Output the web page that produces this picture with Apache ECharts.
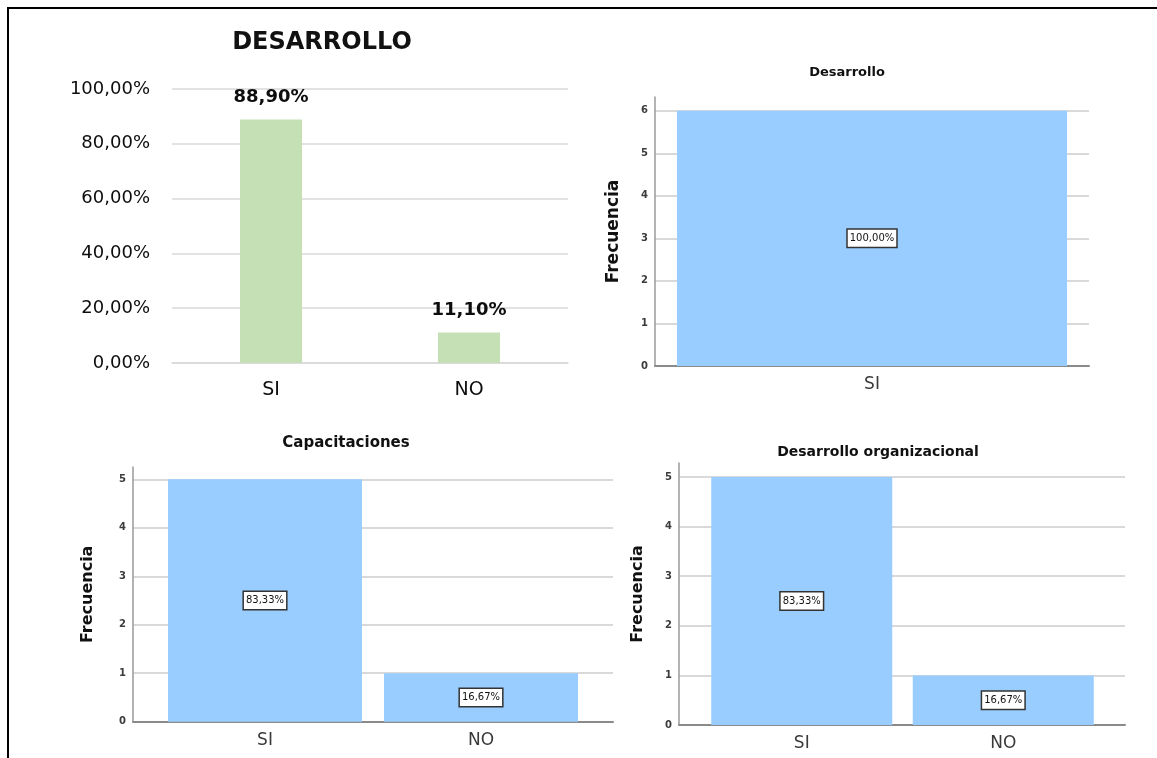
<!DOCTYPE html>
<html>
<head>
<meta charset="utf-8">
<script src="https://cdn.jsdelivr.net/npm/echarts@6/dist/echarts.min.js"></script>
<style>
  html, body { margin: 0; padding: 0; background: #fff; }
  #main { width: 1157px; height: 758px; }
</style>
</head>
<body>
<div id="main"></div>
<script>
// ---- data ----
const resumenCategorias = ['SI', 'NO'];
const resumenPorcentajes = [88.9, 11.1];
const resumenTicks = [0, 20, 40, 60, 80, 100];

const desarrolloCategorias = ['SI'];
const desarrolloFrecuencias = [6];

const capacitacionesCategorias = ['SI', 'NO'];
const capacitacionesFrecuencias = [5, 1];

const organizacionalCategorias = ['SI', 'NO'];
const organizacionalFrecuencias = [5, 1];

// ---- helpers ----
const FONT = 'DejaVu Sans';
const BLUE = '#99ccff';
const GREEN = '#c5e0b4';

function pctText(v) {
  return v.toFixed(2).replace('.', ',') + '%';
}

const grids = [];
const xAxes = [];
const yAxes = [];
const series = [];

// Spreadsheet-style summary chart
grids.push({ left: 172, top: 89, right: 589, bottom: 395 });
xAxes.push({
  gridIndex: 0, type: 'category', data: resumenCategorias,
  axisLine: { show: true, lineStyle: { color: '#d9d9d9', width: 1.5 } },
  axisTick: { show: false },
  axisLabel: { color: '#0d0d0d', fontFamily: FONT, fontSize: 19, margin: 18 }
});
yAxes.push({
  gridIndex: 0, type: 'value', min: resumenTicks[0], max: resumenTicks[resumenTicks.length - 1],
  interval: resumenTicks[1] - resumenTicks[0],
  axisLine: { show: false }, axisTick: { show: false },
  axisLabel: { color: '#0d0d0d', fontFamily: FONT, fontSize: 18, margin: 22, formatter: pctText },
  splitLine: { lineStyle: { color: '#d9d9d9', width: 1.5 } }
});
series.push({
  type: 'bar', xAxisIndex: 0, yAxisIndex: 0, data: resumenPorcentajes,
  barWidth: 62, itemStyle: { color: GREEN },
  label: {
    show: true, position: 'top', distance: 13,
    fontFamily: FONT, fontWeight: 'bold', fontSize: 18, color: '#0d0d0d',
    formatter: p => pctText(p.value)
  }
});

// Frequency chart: a frame grid (axis lines + axis name), a scale grid
// (tick labels + gridlines) and a bar grid (categories + bars).
function freqChart(cfg) {
  const base = grids.length;
  const total = cfg.values.reduce((a, b) => a + b, 0);
  // frame
  grids.push({ left: cfg.left, right: cfg.right, top: cfg.frameTop, bottom: cfg.bottom });
  xAxes.push({
    gridIndex: base, type: 'category', data: [''],
    axisLine: { show: true, lineStyle: { color: '#8a8a8a', width: 2 } },
    axisTick: { show: false }, axisLabel: { show: false }, splitLine: { show: false }
  });
  yAxes.push({
    gridIndex: base, type: 'value', min: 0, max: 1,
    axisLine: { show: true, lineStyle: { color: '#9a9a9a', width: 1.5 } },
    axisTick: { show: false }, axisLabel: { show: false }, splitLine: { show: false },
    name: 'Frecuencia', nameLocation: 'middle', nameRotate: 90, nameGap: cfg.nameGap,
    nameTextStyle: { fontFamily: FONT, fontWeight: 'bold', fontSize: cfg.nameSize, color: '#111' }
  });
  // scale
  grids.push({ left: cfg.left, right: cfg.right, top: cfg.top, bottom: cfg.bottom });
  xAxes.push({ gridIndex: base + 1, type: 'category', data: [''], show: false });
  yAxes.push({
    gridIndex: base + 1, type: 'value', min: 0, max: cfg.max, interval: 1,
    axisLine: { show: false }, axisTick: { show: false },
    axisLabel: { fontFamily: FONT, fontSize: 10, fontWeight: 'bold', color: '#3c3c3c', margin: 7 },
    splitLine: { lineStyle: { color: '#cccccc', width: 1.6 } }
  });
  // bars
  grids.push({ left: cfg.barLeft, right: cfg.barRight, top: cfg.top, bottom: cfg.bottom });
  xAxes.push({
    gridIndex: base + 2, type: 'category', data: cfg.categories,
    axisLine: { show: false }, axisTick: { show: false },
    axisLabel: { fontFamily: FONT, fontSize: 17, color: '#3a3a3a', margin: 10 }
  });
  yAxes.push({ gridIndex: base + 2, type: 'value', min: 0, max: cfg.max, show: false });
  series.push({
    type: 'bar', xAxisIndex: base + 2, yAxisIndex: base + 2, data: cfg.values,
    barWidth: cfg.barWidth, itemStyle: { color: BLUE },
    label: {
      show: true, position: 'inside',
      fontFamily: FONT, fontSize: 10, color: '#111',
      backgroundColor: '#fff', borderColor: '#333', borderWidth: 1.5,
      padding: [4, 2, 3, 2],
      formatter: p => pctText(p.value / total * 100)
    }
  });
}

freqChart({
  categories: desarrolloCategorias, values: desarrolloFrecuencias, max: 6,
  left: 655, right: 68, frameTop: 97, top: 110.7, bottom: 392,
  barLeft: 655, barRight: 68, barWidth: 390, nameGap: 33, nameSize: 17
});
freqChart({
  categories: capacitacionesCategorias, values: capacitacionesFrecuencias, max: 5,
  left: 133, right: 544, frameTop: 467, top: 479.3, bottom: 36.3,
  barLeft: 157, barRight: 568, barWidth: 194, nameGap: 37, nameSize: 16
});
freqChart({
  categories: organizacionalCategorias, values: organizacionalFrecuencias, max: 5,
  left: 679, right: 32, frameTop: 463, top: 477, bottom: 33,
  barLeft: 701, barRight: 53, barWidth: 181, nameGap: 33, nameSize: 16
});

function titleText(text, x, y, size) {
  return {
    type: 'text', x: x, y: y, silent: true,
    style: { text: text, fontFamily: FONT, fontWeight: 'bold', fontSize: size, fill: '#111',
             textAlign: 'center', textVerticalAlign: 'middle' }
  };
}

const chart = echarts.init(document.getElementById('main'), null, { renderer: 'canvas' });
chart.setOption({
  backgroundColor: '#fff',
  animation: false,
  grid: grids,
  xAxis: xAxes,
  yAxis: yAxes,
  series: series,
  graphic: [
    { type: 'polyline', silent: true,
      shape: { points: [[8, 758], [8, 8], [1157, 8]] },
      style: { stroke: '#000', lineWidth: 2, fill: null } },
    titleText('DESARROLLO', 322, 43, 24),
    titleText('Desarrollo', 847, 73, 13),
    titleText('Capacitaciones', 346, 443, 15),
    titleText('Desarrollo organizacional', 878, 452, 14)
  ]
});
</script>
</body>
</html>
